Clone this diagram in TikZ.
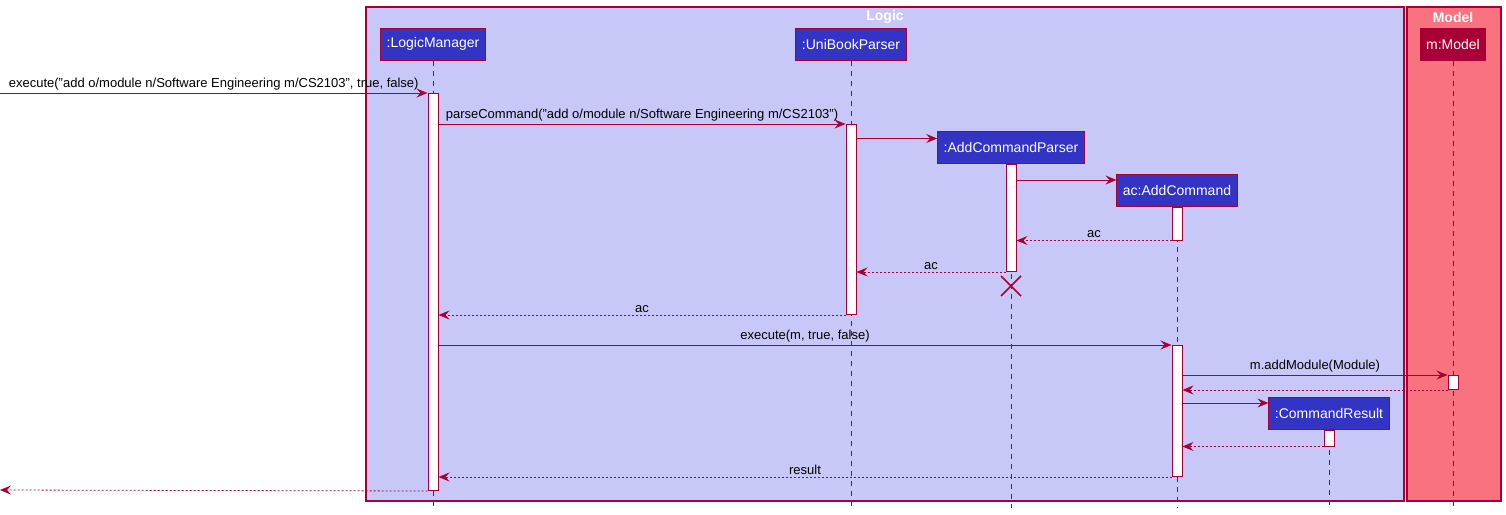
\documentclass[tikz,border=0pt]{standalone}
\usepackage{fontspec}
\setmainfont{Liberation Sans}
\usetikzlibrary{arrows.meta, positioning, calc}
\definecolor{umlred}{HTML}{A80036}
\definecolor{logicbg}{HTML}{C8C8F8}
\definecolor{modelbg}{HTML}{F8727F}
\definecolor{partblue}{HTML}{3333C4}

\tikzset{
  grpbox/.style={draw=umlred, line width=1.2pt},
  grptitle/.style={text=white, font=\fontsize{14}{16}\selectfont\bfseries},
  part/.style={draw=umlred, fill=partblue, text=white, line width=1pt, minimum height=32pt, inner xsep=6pt, font=\fontsize{14}{16}\selectfont},
  act/.style={draw=umlred, fill=white, line width=1pt, minimum width=10pt, inner sep=0pt, anchor=north},
  life/.style={draw=umlred, dash pattern=on 5pt off 5pt, line width=0.8pt},
  msg/.style={draw=umlred, line width=0.8pt, -{Stealth[length=11pt,width=9pt,inset=4pt]}},
  ret/.style={msg, dash pattern=on 2pt off 2pt},
  lbl/.style={font=\fontsize{13}{15}\selectfont, text=black, midway, above, inner sep=2pt}
}

\begin{document}
\begin{tikzpicture}[x=1pt, y=-1pt]
    \useasboundingbox (0,0) rectangle (1506,514);
    % packages
    \draw[grpbox, fill=logicbg] (366,7) rectangle (1404,501);
    \draw[grpbox, fill=modelbg] (1407,7) rectangle (1501,501);
    \node[grptitle] (logict) at (885,17) {Logic};
    \node[grptitle] (modelt) at (1453,17) {Model};

    % participants
    \node[part] (lm) at (433,44) {:LogicManager};
    \node[part] (ubp) at (851,44) {:UniBookParser};
    \node[part] (acp) at (1011,147.5) {:AddCommandParser};
    \node[part] (ac) at (1177,190) {ac:AddCommand};
    \node[part, fill=umlred] (m) at (1453,44) {m:Model};
    \node[part] (cr) at (1329,413) {:CommandResult};

    % lifelines
    \foreach \p in {lm, ubp, acp, ac, m, cr}
        \draw[life] (\p.south) -- (\p.south |- 0,508);

    % activations
    \node[act, minimum height=397pt] (lmA) at (433,93) {};
    \node[act, minimum height=190pt] (ubpA) at (851,124) {};
    \node[act, minimum height=107pt] (acpA) at (acp.south) {};
    \node[act, minimum height=33pt] (acA) at (ac.south) {};
    \node[act, minimum height=131pt] (acB) at (1177,345) {};
    \node[act, minimum height=14pt] (mA) at (1453,375) {};
    \node[act, minimum height=16pt] (crA) at (cr.south) {};

    \coordinate (inL) at (0,93);
    \coordinate (outL) at (0,490);

    % messages
    \draw[msg] (inL) -- (lmA.north west)
        node[lbl] {execute("add o/module n/Software Engineering m/CS2103", true, false)};
    \draw[msg] (lmA.east |- ubpA.north) -- (ubpA.north west)
        node[lbl] {parseCommand("add o/module n/Software Engineering m/CS2103")};
    \draw[msg] ([yshift=9pt]ubpA.east |- acp.west) -- ([yshift=9pt]acp.west);
    \draw[msg] ([yshift=10pt]acpA.east |- ac.west) -- ([yshift=10pt]ac.west);
    \draw[ret] (acA.south west) -- (acpA.east |- acA.south) node[lbl] {ac};
    \draw[ret] (acpA.south west) -- (ubpA.east |- acpA.south) node[lbl] {ac};
    \draw[ret] (ubpA.south west) -- (lmA.east |- ubpA.south) node[lbl] {ac};

    % destroy
    \draw[draw=umlred, line width=1.6pt] ($(acpA.south)+(-10,4)$) -- ($(acpA.south)+(10,24)$)
        ($(acpA.south)+(10,4)$) -- ($(acpA.south)+(-10,24)$);

    \draw[msg] (lmA.east |- acB.north) -- (acB.north west)
        node[lbl] {execute(m, true, false)};
    \draw[msg] (acB.east |- mA.north) -- (mA.north west)
        node[lbl] {m.addModule(Module)};
    \draw[ret] (mA.south west) -- (acB.east |- mA.south);
    \draw[msg] ([yshift=10pt]acB.east |- cr.west) -- ([yshift=10pt]cr.west);
    \draw[ret] (crA.south west) -- (acB.east |- crA.south);
    \draw[ret] (acB.south west) -- (lmA.east |- acB.south) node[lbl] {result};
    \draw[ret] (lmA.south west) -- (outL);
\end{tikzpicture}
\end{document}
